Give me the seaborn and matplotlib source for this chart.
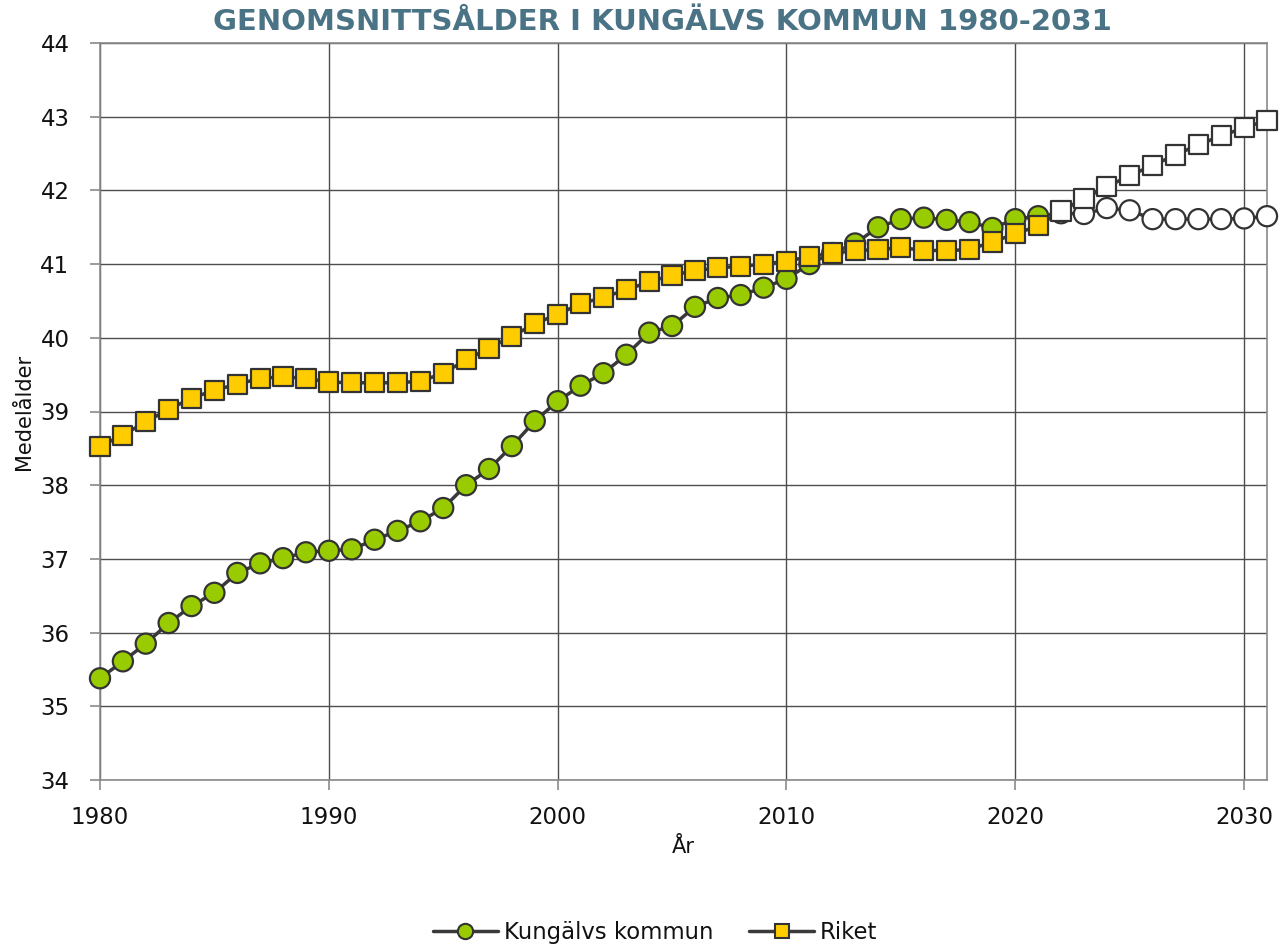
import numpy as np
import pandas as pd
import seaborn as sns
from matplotlib import pyplot as plt
from matplotlib.lines import Line2D

# data
years = list(range(1980, 2032))
kungalv = [35.38, 35.61, 35.85, 36.13, 36.36, 36.54, 36.81, 36.94, 37.01, 37.09,
           37.11, 37.13, 37.26, 37.38, 37.51, 37.69, 38.00, 38.22, 38.53, 38.87,
           39.14, 39.35, 39.52, 39.77, 40.07, 40.16, 40.42, 40.54, 40.58, 40.68,
           40.80, 41.00, 41.15, 41.28, 41.50, 41.61, 41.63, 41.60, 41.57, 41.49,
           41.61, 41.65,
           41.69, 41.68, 41.76, 41.73, 41.61, 41.61, 41.61, 41.61, 41.62, 41.65]
riket = [38.53, 38.68, 38.86, 39.03, 39.18, 39.29, 39.37, 39.45, 39.47, 39.45,
         39.40, 39.39, 39.39, 39.39, 39.41, 39.52, 39.70, 39.86, 40.02, 40.19,
         40.32, 40.46, 40.55, 40.65, 40.76, 40.85, 40.91, 40.95, 40.97, 41.00,
         41.04, 41.10, 41.15, 41.18, 41.20, 41.22, 41.19, 41.18, 41.20, 41.30,
         41.41, 41.52,
         41.72, 41.89, 42.05, 42.20, 42.34, 42.48, 42.62, 42.74, 42.85, 42.95]
last_actual = 2021
x_ticks = [1980, 1990, 2000, 2010, 2020, 2030]
y_ticks = list(range(34, 45))

df = pd.DataFrame({'År': years, 'Kungälvs kommun': kungalv, 'Riket': riket})
df['fas'] = np.where(df['År'] <= last_actual, 'utfall', 'prognos')

sns.set_style('white')
plt.rcParams['font.family'] = ['DejaVu Sans']

fig = plt.figure(figsize=(12.82, 9.52), dpi=100)
ax = fig.add_axes([100/1282, 1 - 780/952, 1167/1282, 737/952])

line_col = '#3a3a3a'
edge_col = '#333333'
ms = 14.5

# Kungälv first, Riket on top
sns.lineplot(data=df, x='År', y='Kungälvs kommun', color=line_col, lw=2.5, ax=ax, zorder=3)
sns.scatterplot(data=df, x='År', y='Kungälvs kommun', hue='fas',
                palette={'utfall': '#99cc00', 'prognos': 'white'}, marker='o',
                s=ms**2, edgecolor=edge_col, linewidth=1.6, ax=ax, zorder=4,
                legend=False, clip_on=False)
sns.lineplot(data=df, x='År', y='Riket', color=line_col, lw=2.5, ax=ax, zorder=5)
sns.scatterplot(data=df, x='År', y='Riket', hue='fas',
                palette={'utfall': '#ffcc00', 'prognos': 'white'}, marker='s',
                s=(ms*0.95)**2, edgecolor=edge_col, linewidth=1.6, ax=ax, zorder=6,
                legend=False, clip_on=False)

ax.set_xlim(1980, 2031)
ax.set_ylim(34, 44)
ax.set_xticks(x_ticks)
ax.set_yticks(y_ticks)
ax.grid(True, color='#4d4d4d', lw=1.0)
ax.set_axisbelow(True)
for s in ax.spines.values():
    s.set_color('#8a8a8a')
    s.set_linewidth(1.2)
ax.tick_params(axis='both', which='major', labelsize=16.5, length=7, width=1.2,
               color='#8a8a8a', direction='out', left=True, bottom=True,
               labelcolor='#111111')
ax.tick_params(axis='y', pad=15)
ax.tick_params(axis='x', pad=12)
ax.set_xlabel('År', fontsize=15, color='#111111')
ax.set_ylabel('Medelålder', fontsize=15, color='#111111')
ax.xaxis.set_label_coords((683 - 100) / 1167, -(837 - 780) / 737)
ax.yaxis.set_label_coords(-(100 - 34) / 1167, 0.5)

fig.text(0.517, 0.977, 'GENOMSNITTSÅLDER I KUNGÄLVS KOMMUN 1980-2031',
         ha='center', va='center', fontsize=21, fontweight='bold', color='#4a7385')

handles = [Line2D([], [], color=line_col, lw=2.5, marker='o', markersize=11,
                  markerfacecolor='#99cc00', markeredgecolor=edge_col, markeredgewidth=1.5),
           Line2D([], [], color=line_col, lw=2.5, marker='s', markersize=10,
                  markerfacecolor='#ffcc00', markeredgecolor=edge_col, markeredgewidth=1.5)]
fig.legend(handles, ['Kungälvs kommun', 'Riket'], loc='center', bbox_to_anchor=(0.511, 0.02),
           ncol=2, frameon=False, fontsize=16.4, handlelength=2.85, handletextpad=0.26,
           columnspacing=1.6, labelcolor='#111111')

fig.savefig('out.png', dpi=100)
